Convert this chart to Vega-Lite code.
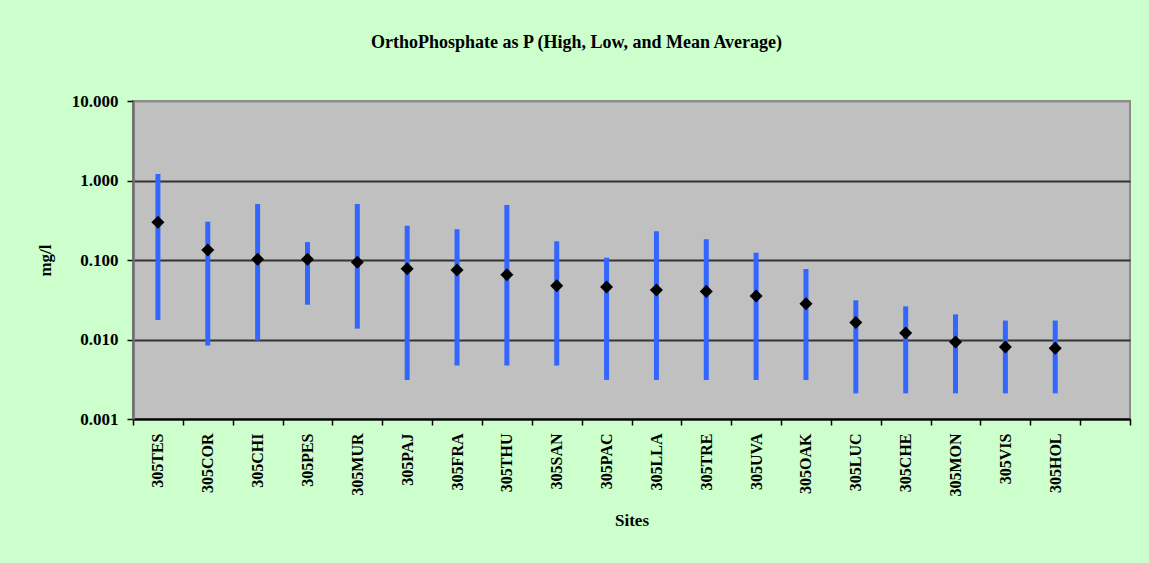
{
  "$schema": "https://vega.github.io/schema/vega-lite/v6.json",
  "width": 997,
  "height": 318,
  "autosize": {"type": "none"},
  "padding": {"left": 133, "top": 101, "right": 19, "bottom": 144},
  "background": "#CCFFCC",
  "title": {
    "text": "OrthoPhosphate as P (High, Low, and Mean Average)",
    "font": "Liberation Serif",
    "fontSize": 18,
    "fontWeight": "bold",
    "color": "#000000",
    "anchor": "middle",
    "offset": 40,
    "dx": -55
  },
  "config": {
    "view": {"fill": "#C0C0C0", "stroke": "#8C8C8C", "strokeWidth": 2},
    "axis": {
      "labelFont": "Liberation Serif",
      "titleFont": "Liberation Serif",
      "labelFontWeight": "bold",
      "titleFontWeight": "bold",
      "labelColor": "#000000",
      "titleColor": "#000000"
    }
  },
  "data": {
    "values": [
      {"site": "305TES", "low": 0.0176, "high": 1.21, "mean": 0.298},
      {"site": "305COR", "low": 0.0084, "high": 0.303, "mean": 0.134},
      {"site": "305CHI", "low": 0.0097, "high": 0.506, "mean": 0.102},
      {"site": "305PES", "low": 0.0274, "high": 0.168, "mean": 0.102},
      {"site": "305MUR", "low": 0.0137, "high": 0.506, "mean": 0.0935},
      {"site": "305PAJ", "low": 0.0031, "high": 0.270, "mean": 0.0778},
      {"site": "305FRA", "low": 0.0047, "high": 0.243, "mean": 0.0748},
      {"site": "305THU", "low": 0.0047, "high": 0.492, "mean": 0.0653},
      {"site": "305SAN", "low": 0.0047, "high": 0.172, "mean": 0.0475},
      {"site": "305PAC", "low": 0.0031, "high": 0.107, "mean": 0.0457},
      {"site": "305LLA", "low": 0.0031, "high": 0.230, "mean": 0.042},
      {"site": "305TRE", "low": 0.0031, "high": 0.182, "mean": 0.0403},
      {"site": "305UVA", "low": 0.0031, "high": 0.1236, "mean": 0.0352},
      {"site": "305OAK", "low": 0.0031, "high": 0.0771, "mean": 0.0282},
      {"site": "305LUC", "low": 0.0021, "high": 0.0311, "mean": 0.0164},
      {"site": "305CHE", "low": 0.0021, "high": 0.0261, "mean": 0.0121},
      {"site": "305MON", "low": 0.0021, "high": 0.0207, "mean": 0.0093},
      {"site": "305VIS", "low": 0.0021, "high": 0.0173, "mean": 0.00805},
      {"site": "305HOL", "low": 0.0021, "high": 0.0173, "mean": 0.00775}
    ]
  },
  "encoding": {
    "x": {
      "field": "site",
      "type": "nominal",
      "sort": null,
      "scale": {
        "type": "band",
        "paddingInner": 0,
        "paddingOuter": 0,
        "domain": ["305TES", "305COR", "305CHI", "305PES", "305MUR", "305PAJ", "305FRA", "305THU", "305SAN", "305PAC", "305LLA", "305TRE", "305UVA", "305OAK", "305LUC", "305CHE", "305MON", "305VIS", "305HOL", " "]
      },
      "axis": {
        "title": "Sites",
        "titleFontSize": 17,
        "titlePadding": 16,
        "labelAngle": -90,
        "labelFontSize": 16,
        "labelPadding": 8,
        "tickBand": "extent",
        "tickColor": "#000000",
        "tickSize": 6,
        "tickWidth": 1.5,
        "domainColor": "#000000",
        "domainWidth": 2,
        "grid": false
      }
    }
  },
  "layer": [
    {
      "mark": {"type": "rule", "color": "#3366FF", "strokeWidth": 5},
      "encoding": {
        "y": {
          "field": "low",
          "type": "quantitative",
          "scale": {"type": "log", "domain": [0.001, 10], "nice": false},
          "axis": {
            "title": "mg/l",
            "titleFontSize": 17,
            "titlePadding": 17,
            "values": [0.001, 0.01, 0.1, 1, 10],
            "format": ".3f",
            "labelFontSize": 17,
            "labelPadding": 9,
            "tickColor": "#000000",
            "tickSize": 6,
            "tickWidth": 1.5,
            "domainColor": "#6E6E6E",
            "domainWidth": 2.5,
            "grid": true,
            "gridColor": {"condition": {"test": "datum.value >= 10", "value": "#8C8C8C"}, "value": "#333333"},
            "gridWidth": 2
          }
        },
        "y2": {"field": "high"}
      }
    },
    {
      "mark": {"type": "point", "shape": "diamond", "filled": true, "color": "#000000", "size": 170, "opacity": 1},
      "encoding": {
        "y": {"field": "mean", "type": "quantitative"}
      }
    }
  ]
}
